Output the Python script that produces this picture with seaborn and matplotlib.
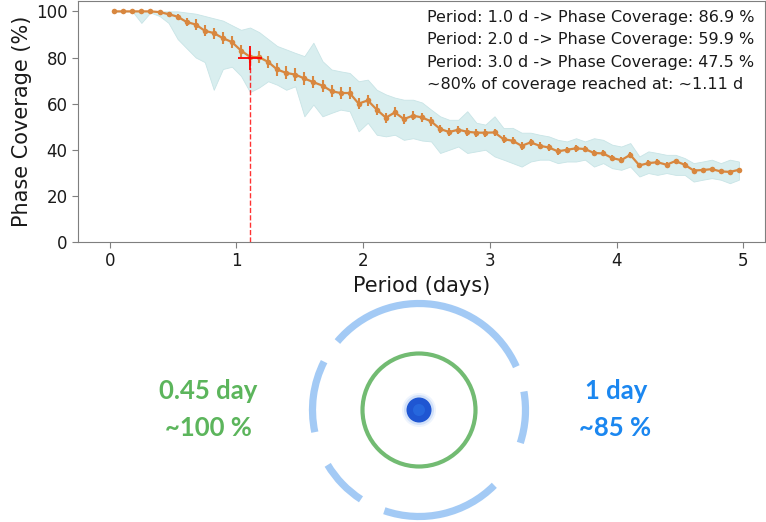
import numpy as np
import pandas as pd
import matplotlib
matplotlib.use("Agg")
import matplotlib.pyplot as plt
from matplotlib.patches import Arc, Circle
import seaborn as sns

# binned phase coverage (bin centres, days)
period_days = [
    0.036, 0.107, 0.179, 0.250, 0.321, 0.393, 0.464, 0.536, 0.607, 0.679,
    0.750, 0.821, 0.893, 0.964, 1.036, 1.107, 1.179, 1.250, 1.321, 1.393,
    1.464, 1.536, 1.607, 1.679, 1.750, 1.821, 1.893, 1.964, 2.036, 2.107,
    2.179, 2.250, 2.321, 2.393, 2.464, 2.536, 2.607, 2.679, 2.750, 2.821,
    2.893, 2.964, 3.036, 3.107, 3.179, 3.250, 3.321, 3.393, 3.464, 3.536,
    3.607, 3.679, 3.750, 3.821, 3.893, 3.964, 4.036, 4.107, 4.179, 4.250,
    4.321, 4.393, 4.464, 4.536, 4.607, 4.679, 4.750, 4.821, 4.893, 4.964,
]
coverage = [
    100, 100, 100, 100, 100, 99.7, 98.8, 97.7, 95.4, 94.3,
    91.6, 90.6, 88.4, 86.7, 83.0, 80.3, 80.1, 78.1, 74.8, 73.3,
    72.6, 70.9, 69.3, 67.8, 65.4, 64.6, 64.6, 60.0, 61.4, 57.4,
    53.9, 56.2, 53.3, 54.8, 54.0, 52.3, 49.0, 47.7, 48.7, 47.8,
    47.4, 47.4, 47.5, 44.6, 43.9, 41.7, 43.2, 41.7, 41.0, 39.3,
    40.0, 40.6, 40.3, 38.6, 38.4, 36.4, 35.5, 37.8, 33.2, 34.2,
    34.6, 33.5, 35.1, 33.5, 31.0, 31.2, 31.6, 30.6, 30.4, 31.3,
]
coverage_err = [
    0, 0, 0, 0, 0, 0.4, 0.8, 1.2, 1.8, 2.2,
    2.4, 2.4, 2.5, 2.5, 2.6, 2.6, 2.6, 2.6, 2.7, 2.8,
    2.7, 2.7, 2.6, 2.6, 2.5, 2.5, 2.4, 2.4, 2.3, 2.3,
    2.2, 2.2, 2.1, 2.0, 2.0, 1.9, 1.9, 1.8, 1.8, 1.8,
    1.7, 1.7, 1.7, 1.6, 1.6, 1.6, 1.5, 1.5, 1.5, 1.4,
    1.4, 1.4, 1.4, 1.3, 1.3, 1.3, 1.3, 1.2, 1.2, 1.2,
    1.2, 1.1, 1.1, 1.1, 1.1, 1.0, 1.0, 1.0, 1.0, 1.0,
]
# spread of the unbinned (noisy) curve inside each bin
raw_high = [
    100, 100, 100, 100, 100, 100, 100, 100, 99.5, 99,
    98, 97, 96, 94, 92, 93, 91, 88, 85, 83.5,
    82, 80.6, 86.4, 78.4, 74.8, 74, 73.3, 69.7, 70.4, 66,
    64, 62.6, 61.7, 61.7, 60.5, 57.4, 54.5, 53, 53, 56.7,
    51.7, 50.9, 54.5, 49.4, 49.5, 47.4, 47.4, 46.5, 45.8, 44.3,
    43.6, 45, 43.6, 45, 44.3, 42.2, 41.4, 42.9, 37.1, 39.3,
    38.6, 37.8, 37.8, 36.4, 34.2, 34.9, 35.7, 34.2, 35.7, 34.9,
]
raw_low = [
    100, 100, 100, 95, 99.5, 98, 95, 88, 84, 80,
    78, 66, 75, 76, 72, 65, 67, 69.7, 68.2, 66,
    67.5, 54.5, 59.6, 54.5, 56, 57.4, 56.7, 48, 51.7, 46.5,
    45.8, 46.5, 44.3, 45, 44, 43.6, 38.6, 40, 41.4, 38.6,
    39.3, 40, 37.1, 35.7, 34.2, 32.7, 34.9, 35.7, 35.7, 34.2,
    34.9, 34.9, 35.7, 32.7, 34.2, 32, 31.3, 32.7, 28.4, 29.9,
    29.1, 29.9, 29.1, 29.1, 26.2, 27, 27.7, 27, 25.5, 27,
]
summary_lines = [
    "Period: 1.0 d -> Phase Coverage: 86.9 %",
    "Period: 2.0 d -> Phase Coverage: 59.9 %",
    "Period: 3.0 d -> Phase Coverage: 47.5 %",
    "~80% of coverage reached at: ~1.11 d",
]
p80_period = 1.11
p80_level = 80
x_ticks = [0, 1, 2, 3, 4, 5]
y_ticks = [0, 20, 40, 60, 80, 100]

df = pd.DataFrame({"period": period_days, "coverage": coverage,
                   "err": coverage_err, "hi": raw_high, "lo": raw_low})

sns.set_style("ticks", {"axes.edgecolor": "#7f7f7f", "xtick.color": "#7f7f7f",
                        "ytick.color": "#7f7f7f"})
plt.rcParams["font.family"] = ["DejaVu Sans"]

W, H = 766, 522
fig = plt.figure(figsize=(W / 100, H / 100), dpi=100)

# --- top panel ---
ax = fig.add_axes([78 / W, 1 - 242 / H, (765 - 78) / W, 241 / H], zorder=2)
orange = "#d8873f"
ax.fill_between(df["period"], df["lo"], df["hi"], color="#d9eeef", lw=0.6,
                ec="#c8e4e6", zorder=1)
ax.errorbar(df["period"], df["coverage"], yerr=df["err"], fmt="none",
            ecolor=orange, elinewidth=1.5, capsize=0, zorder=3)
sns.lineplot(data=df, x="period", y="coverage", ax=ax, color=orange, lw=1.6,
             marker="o", markersize=4, markeredgewidth=0, zorder=4)
ax.vlines(p80_period, 0, p80_level, colors="red", linestyles="--", lw=1, alpha=0.8, zorder=5)
ax.plot([p80_period], [p80_level], marker="+", color="red", markersize=17,
        markeredgewidth=1.3, ls="none", zorder=6)

ax.text(0.508, 0.962, "\n".join(summary_lines), transform=ax.transAxes,
        ha="left", va="top", fontsize=11.5, linespacing=1.6, color="#1a1a1a")

ax.set_xlim(-0.25, 5.17)
ax.set_ylim(0, 104.5)
ax.set_xticks(x_ticks)
ax.set_yticks(y_ticks)
ax.tick_params(labelsize=12, labelcolor="#1a1a1a", length=4)
ax.set_xlabel("Period (days)", fontsize=15, color="#1a1a1a", labelpad=4)
ax.set_ylabel("Phase Coverage (%)", fontsize=15, color="#1a1a1a", labelpad=3)
for s in ax.spines.values():
    s.set_visible(True)

# --- bottom sketch, drawn in pixel units ---
dx = fig.add_axes([0, 0, 1, 1], zorder=1)
dx.set_xlim(0, W)
dx.set_ylim(0, H)
dx.axis("off")
cx, cy = 419, H - 410

ring_blue = "#a3caf5"
for t1, t2 in [(24, 140), (153, 192), (211, 237), (251, 315), (342, 370)]:
    dx.add_patch(Arc((cx, cy), 213, 213, theta1=t1, theta2=t2,
                     color=ring_blue, lw=5.2))
dx.add_patch(Circle((cx, cy), 56.5, fill=False, ec="#72bb72", lw=3))
for r, a in [(17, 0.12), (15, 0.25)]:
    dx.add_patch(Circle((cx, cy), r, color="#7aa6f0", alpha=a, lw=0))
dx.add_patch(Circle((cx, cy), 12.5, color="#1f56d2", lw=0))
dx.add_patch(Circle((cx, cy), 6, color="#2b73e6", alpha=0.6, lw=0))

lato = ["Lato", "DejaVu Sans"]
green_t, blue_t = "#5cb55c", "#1b87f0"
fs = 18.5
dx.text(208, H - 391, "0.45 day", color=green_t, fontsize=fs, fontweight="bold",
        family=lato, ha="center", va="center")
dx.text(208, H - 428, "~100 %", color=green_t, fontsize=fs, fontweight="bold",
        family=lato, ha="center", va="center")
dx.text(616, H - 391, "1 day", color=blue_t, fontsize=fs, fontweight="bold",
        family=lato, ha="center", va="center")
dx.text(615, H - 428, "~85 %", color=blue_t, fontsize=fs, fontweight="bold",
        family=lato, ha="center", va="center")

fig.savefig("out.png", dpi=100)
